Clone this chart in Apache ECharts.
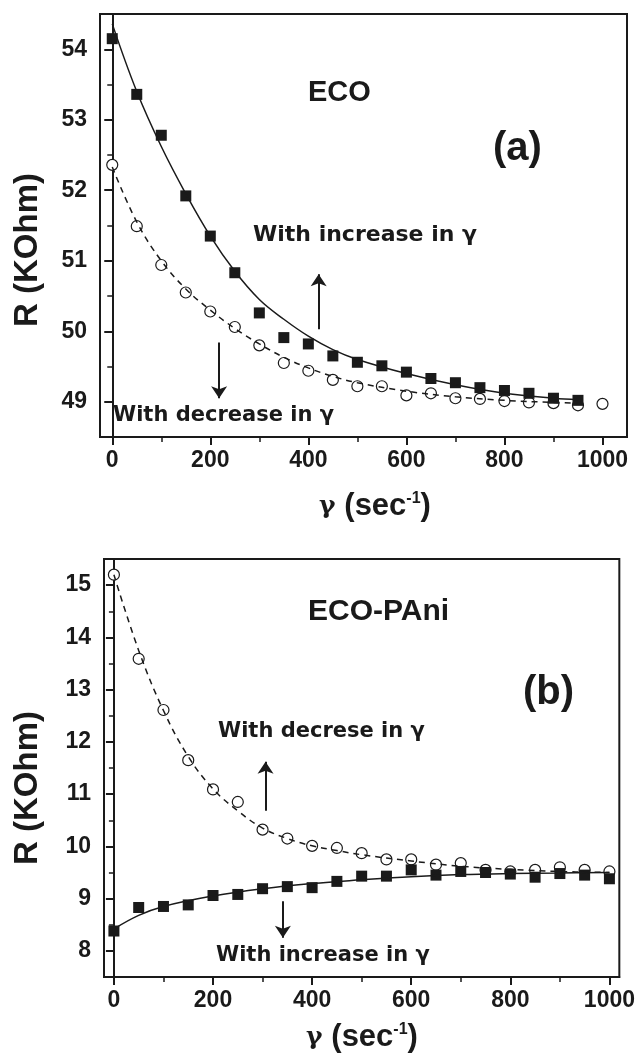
<!DOCTYPE html>
<html>
<head>
<meta charset="utf-8">
<script src="https://cdn.jsdelivr.net/npm/echarts@6/dist/echarts.min.js"></script>
<style>
  html, body { margin: 0; padding: 0; background: #fff; }
  #chart { width: 638px; height: 1063px; }
</style>
</head>
<body>
<div id="chart"></div>
<script>
// shear rate (sec^-1)
const gamma = [0, 50, 100, 150, 200, 250, 300, 350, 400, 450, 500, 550, 600, 650, 700, 750, 800, 850, 900, 950, 1000]

// (a) ECO - filled squares (increase in gamma), open circles (decrease in gamma)
const ecoIncrease = [54.15, 53.36, 52.78, 51.92, 51.35, 50.83, 50.26, 49.91, 49.82, 49.65, 49.56, 49.51, 49.42, 49.33, 49.27, 49.20, 49.16, 49.12, 49.05, 49.02]
const ecoDecrease = [52.36, 51.49, 50.94, 50.55, 50.28, 50.06, 49.80, 49.55, 49.44, 49.31, 49.22, 49.22, 49.09, 49.12, 49.05, 49.04, 49.01, 48.99, 48.98, 48.95, 48.97]

// (a) fitted curves
const ecoFitX = [0, 50, 100, 150, 200, 250, 300, 350, 400, 450, 500, 600, 700, 800, 900, 950]
const ecoFitIncrease = [54.36, 53.40, 52.62, 51.95, 51.35, 50.85, 50.45, 50.17, 49.93, 49.74, 49.60, 49.40, 49.24, 49.12, 49.05, 49.03]
const ecoFitDecrease = [52.33, 51.55, 51.00, 50.60, 50.30, 50.04, 49.82, 49.63, 49.48, 49.36, 49.27, 49.15, 49.07, 49.02, 48.99, 48.98]

// (b) ECO-PAni
const paniIncrease = [8.38, 8.83, 8.85, 8.88, 9.06, 9.08, 9.19, 9.23, 9.21, 9.33, 9.43, 9.43, 9.55, 9.45, 9.52, 9.50, 9.47, 9.41, 9.48, 9.45, 9.38]
const paniDecrease = [15.20, 13.59, 12.61, 11.65, 11.09, 10.85, 10.32, 10.15, 10.01, 9.97, 9.87, 9.75, 9.75, 9.65, 9.68, 9.55, 9.52, 9.55, 9.60, 9.55, 9.52]

const paniFitIncX = [0, 50, 100, 200, 300, 400, 500, 600, 700, 800, 900, 1000]
const paniFitIncrease = [8.42, 8.68, 8.85, 9.05, 9.19, 9.29, 9.36, 9.42, 9.46, 9.48, 9.49, 9.50]
const paniFitDecX = [0, 50, 100, 150, 200, 250, 300, 350, 400, 450, 500, 600, 700, 800, 900, 1000]
const paniFitDecrease = [15.20, 13.75, 12.60, 11.72, 11.10, 10.68, 10.35, 10.15, 10.01, 9.92, 9.84, 9.72, 9.62, 9.56, 9.52, 9.50]

// arrows: [x, yStart, yEnd]
const ecoArrows = [[421, 50.03, 50.81], [218, 49.84, 49.05]]
const paniArrows = [[306, 10.68, 11.62], [341, 8.95, 8.25]]

// tick values
const xMajor = [0, 200, 400, 600, 800, 1000]
const xMinor = [100, 300, 500, 700, 900]
const ecoYMajor = [49, 50, 51, 52, 53, 54]
const ecoYMinor = [48.5, 49.5, 50.5, 51.5, 52.5, 53.5, 54.5]
const paniYMajor = [8, 9, 10, 11, 12, 13, 14, 15]
const paniYMinor = [7.5, 8.5, 9.5, 10.5, 11.5, 12.5, 13.5, 14.5, 15.5]

const INK = '#1a1a1a'
const SANS = '"Liberation Sans", Arial, sans-serif'

function zip(xs, ys) {
  return ys.map((y, i) => [xs[i], y])
}

function arrowLines(list) {
  return list.map(a => [{ coord: [a[0], a[1]] }, { coord: [a[0], a[2]] }])
}

const tickFont = { color: INK, fontSize: 23, fontWeight: 'bold', fontFamily: SANS, formatter: v => String(v) }

// major axis (ticks + labels)
function majorX(grid, min, max) {
  return {
    type: 'value', gridIndex: grid, position: 'bottom', min: min, max: max,
    splitLine: { show: false },
    axisLine: { lineStyle: { color: INK, width: 2 } },
    axisTick: { inside: false, length: 8, customValues: xMajor, lineStyle: { color: INK, width: 2 } },
    axisLabel: Object.assign({ customValues: xMajor, margin: 12 }, tickFont)
  }
}
// minor axis (ticks only)
function minorX(grid, min, max) {
  return {
    type: 'value', gridIndex: grid, position: 'bottom', offset: 0, min: min, max: max,
    splitLine: { show: false },
    axisLine: { show: false },
    axisTick: { inside: false, length: 5, customValues: xMinor, lineStyle: { color: INK, width: 1.5 } },
    axisLabel: { show: false }
  }
}
function majorY(grid, min, max, ticks) {
  return {
    type: 'value', gridIndex: grid, position: 'left', min: min, max: max,
    splitLine: { show: false },
    axisLine: { lineStyle: { color: INK, width: 2 } },
    axisTick: { inside: false, length: 8, customValues: ticks, lineStyle: { color: INK, width: 2 } },
    axisLabel: Object.assign({ customValues: ticks, margin: 13 }, tickFont)
  }
}
function minorY(grid, min, max, ticks) {
  return {
    type: 'value', gridIndex: grid, position: 'left', offset: 0, min: min, max: max,
    splitLine: { show: false },
    axisLine: { show: false },
    axisTick: { inside: false, length: 5, customValues: ticks, lineStyle: { color: INK, width: 1.5 } },
    axisLabel: { show: false }
  }
}

function circles(xi, yi, data) {
  return {
    type: 'scatter', xAxisIndex: xi, yAxisIndex: yi, data: data,
    symbol: 'circle', symbolSize: 11,
    itemStyle: { color: '#fff', borderColor: INK, borderWidth: 1.2, opacity: 1 }
  }
}
function squares(xi, yi, data) {
  return {
    type: 'scatter', xAxisIndex: xi, yAxisIndex: yi, data: data,
    symbol: 'rect', symbolSize: 11,
    itemStyle: { color: INK, opacity: 1 }
  }
}
function fitLine(xi, yi, data, dashed, arrows) {
  const s = {
    type: 'line', xAxisIndex: xi, yAxisIndex: yi, data: data,
    smooth: 0.4, showSymbol: false, silent: true,
    lineStyle: { color: INK, width: 1.5, type: dashed ? [6, 5] : 'solid' }
  }
  if (arrows) {
    s.markLine = {
      silent: true, symbol: ['none', 'arrow'], symbolSize: 12,
      label: { show: false },
      lineStyle: { color: INK, width: 2, type: 'solid' },
      data: arrowLines(arrows)
    }
  }
  return s
}

function txt(x, y, text, font) {
  return {
    type: 'text', x: x, y: y,
    style: { text: text, font: font, fill: INK, align: 'left', verticalAlign: 'middle' }
  }
}

function yTitle(x, y) {
  return {
    type: 'text', x: x, y: y, rotation: Math.PI / 2,
    style: { text: 'R (KOhm)', font: 'bold 33px ' + SANS, fill: INK, align: 'center', verticalAlign: 'middle' }
  }
}

function xTitle(x, y) {
  return {
    type: 'text', x: x, y: y,
    style: {
      text: '{g|γ }{t|(sec}{s|-1}{t|)}',
      fill: INK, align: 'center', verticalAlign: 'middle',
      rich: {
        g: { font: 'bold 25px "DejaVu Serif", serif', fill: INK },
        t: { font: 'bold 31px ' + SANS, fill: INK },
        s: { font: 'bold 16px ' + SANS, fill: INK, verticalAlign: 'top' }
      }
    }
  }
}

const ANNO = 'bold 21px "DejaVu Sans", sans-serif'

const options = {
  backgroundColor: '#fff',
  animation: false,
  grid: [
    { left: 100, top: 14, width: 527, height: 423, show: true, borderColor: INK, borderWidth: 2, backgroundColor: 'transparent' },
    { left: 104, top: 559, width: 518, height: 418, show: true, borderColor: INK, borderWidth: 2, backgroundColor: 'transparent' }
  ],
  xAxis: [
    majorX(0, -25, 1050), minorX(0, -25, 1050),
    majorX(1, -20, 1020), minorX(1, -20, 1020)
  ],
  yAxis: [
    majorY(0, 48.5, 54.5, ecoYMajor), minorY(0, 48.5, 54.5, ecoYMinor),
    majorY(1, 7.5, 15.5, paniYMajor), minorY(1, 7.5, 15.5, paniYMinor)
  ],
  series: [
    circles(0, 0, zip(gamma, ecoDecrease)),
    squares(0, 0, zip(gamma, ecoIncrease)),
    fitLine(0, 0, zip(ecoFitX, ecoFitIncrease), false, ecoArrows),
    fitLine(0, 0, zip(ecoFitX, ecoFitDecrease), true),

    circles(2, 2, zip(gamma, paniDecrease)),
    squares(2, 2, zip(gamma, paniIncrease)),
    fitLine(2, 2, zip(paniFitIncX, paniFitIncrease), false, paniArrows),
    fitLine(2, 2, zip(paniFitDecX, paniFitDecrease), true)
  ],
  graphic: [
    // panel (a)
    txt(308, 93, 'ECO', 'bold 29px ' + SANS),
    txt(493, 149, '(a)', 'bold 40px ' + SANS),
    txt(253, 235, 'With increase in γ', 'bold 22px "DejaVu Sans", sans-serif'),
    txt(113, 416, 'With decrease in γ', ANNO),
    yTitle(28, 250),
    xTitle(375, 506),
    // panel (b)
    txt(308, 612, 'ECO-PAni', 'bold 30px ' + SANS),
    txt(523, 693, '(b)', 'bold 40px ' + SANS),
    txt(218, 732, 'With decrese in γ', ANNO),
    txt(216, 956, 'With increase in γ', ANNO),
    yTitle(28, 788),
    xTitle(362, 1037)
  ]
}

const chart = echarts.init(document.getElementById('chart'))
chart.setOption(options)
</script>
</body>
</html>
